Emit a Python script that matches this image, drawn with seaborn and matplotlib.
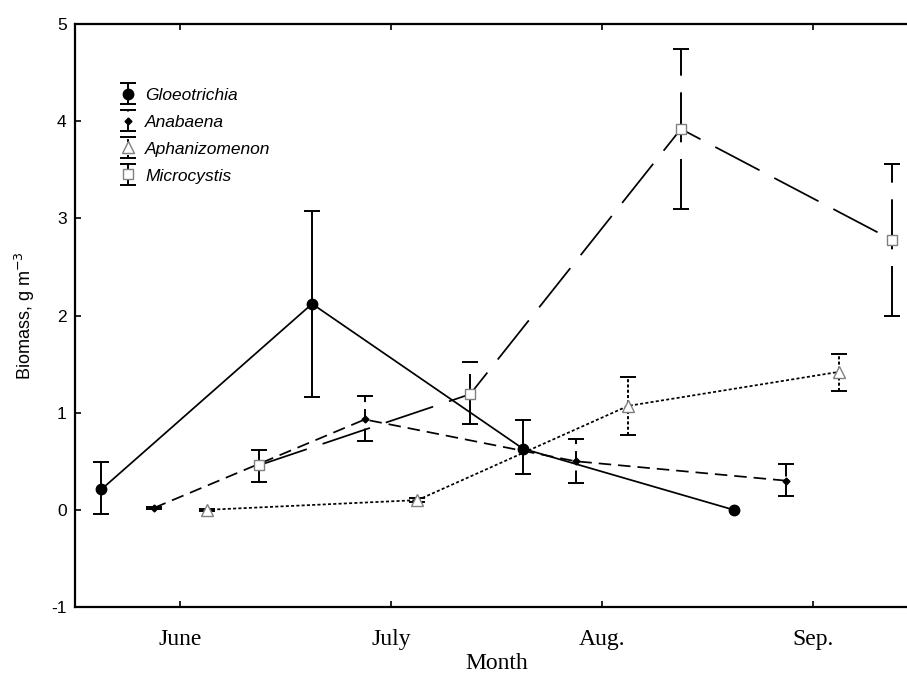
import numpy as np
import pandas as pd
import matplotlib
matplotlib.use("Agg")
import matplotlib.pyplot as plt
import seaborn as sns
from matplotlib.legend_handler import HandlerErrorbar

# ---------------- data ----------------
months = ["June", "July", "Aug.", "Sep."]
species = ["Gloeotrichia", "Anabaena", "Aphanizomenon", "Microcystis"]

gloeo_mean = [0.21, 2.12, 0.63, 0.00]
gloeo_hi = [0.49, 3.08, 0.92, np.nan]
gloeo_lo = [-0.04, 1.16, 0.37, np.nan]

anab_mean = [0.02, 0.93, 0.50, 0.30]
anab_hi = [0.03, 1.17, 0.73, 0.47]
anab_lo = [0.01, 0.71, 0.28, 0.14]

aphan_mean = [0.00, 0.10, 1.07, 1.42]
aphan_hi = [0.01, 0.12, 1.37, 1.60]
aphan_lo = [-0.01, 0.08, 0.77, 1.22]

micro_mean = [0.46, 1.19, 3.92, 2.78]
micro_hi = [0.62, 1.52, 4.74, 3.56]
micro_lo = [0.29, 0.88, 3.10, 1.99]

series = {
    "Gloeotrichia": (gloeo_mean, gloeo_lo, gloeo_hi),
    "Anabaena": (anab_mean, anab_lo, anab_hi),
    "Aphanizomenon": (aphan_mean, aphan_lo, aphan_hi),
    "Microcystis": (micro_mean, micro_lo, micro_hi),
}

rows = []
for sp in species:
    m, lo, hi = series[sp]
    for i, mon in enumerate(months):
        rows.append({"species": sp, "month_idx": i, "month": mon,
                     "mean": m[i], "lo": lo[i], "hi": hi[i]})
df = pd.DataFrame(rows)

# ---------------- styles ----------------
offsets = {"Gloeotrichia": -0.375, "Anabaena": -0.125,
           "Aphanizomenon": 0.125, "Microcystis": 0.375}
styles = {
    "Gloeotrichia": dict(marker="o", ms=7.5, mfc="black", mec="black", ls="-"),
    "Anabaena": dict(marker="D", ms=3.5, mfc="black", mec="black", ls=(0, (9, 5))),
    "Aphanizomenon": dict(marker="^", ms=8, mfc="white", mec="#808080", ls=(0, (2.2, 1.6))),
    "Microcystis": dict(marker="s", ms=7, mfc="white", mec="#808080", ls=(0, (36, 12))),
}

sns.set_style("ticks")
plt.rcParams["lines.scale_dashes"] = False
plt.rcParams["font.family"] = ["Liberation Sans", "DejaVu Sans"]
for k in ["text.color", "axes.labelcolor", "xtick.color", "ytick.color", "axes.edgecolor"]:
    plt.rcParams[k] = "black"

fig = plt.figure(figsize=(9.07, 6.74), dpi=100)
ax = fig.add_axes([75 / 907, 67 / 674, 843 / 907, 583 / 674])

df["xpos"] = df["month_idx"] + df["species"].map(offsets)

legend_handles = []
for sp in species:
    sub = df[df["species"] == sp]
    st = styles[sp]
    sns.lineplot(data=sub, x="xpos", y="mean", ax=ax, color="black",
                 linewidth=1.25, linestyle=st["ls"], marker=st["marker"],
                 markersize=st["ms"], markerfacecolor=st["mfc"],
                 markeredgecolor=st["mec"], markeredgewidth=1.0,
                 estimator=None, sort=False, legend=False, zorder=4)
    ok = sub.dropna(subset=["lo", "hi"])
    eb = ax.errorbar(ok["xpos"], ok["mean"],
                     yerr=[ok["mean"] - ok["lo"], ok["hi"] - ok["mean"]],
                     fmt="none", ecolor="black", elinewidth=1.4,
                     capsize=6, capthick=1.4, zorder=3)
    eb[2][0].set_linestyle(st["ls"])
    # legend proxy
    h = ax.errorbar([np.nan], [np.nan], yerr=[[0.1]], fmt=st["marker"],
                    color="black", ms=st["ms"], mfc=st["mfc"], mec=st["mec"],
                    elinewidth=1.4, capsize=6, capthick=1.4, linestyle="none")
    h[2][0].set_linestyle(st["ls"])
    legend_handles.append(h)

ax.set_xlim(-0.5, 3.5)
ax.set_ylim(-1, 5)
ax.set_xticks(range(len(months)))
ax.set_xticklabels(months, family=["Liberation Serif"], fontsize=17)
ax.set_yticks(range(-1, 6))
ax.set_yticklabels([str(v) for v in range(-1, 6)], fontsize=12.5)
ax.tick_params(direction="in", length=4, width=1.2, top=True, right=False,
               colors="black", pad=6)
ax.tick_params(axis="x", pad=16)
for s in ["left", "bottom", "top"]:
    ax.spines[s].set_linewidth(1.6)
    ax.spines[s].set_color("black")
ax.spines["right"].set_visible(False)

ax.set_xlabel("Month", family=["Liberation Serif"], fontsize=17, labelpad=2)
ax.set_ylabel("Biomass, g m$^{-3}$", fontsize=13, labelpad=10)

leg = ax.legend(legend_handles, species, loc="upper left",
                bbox_to_anchor=(0.044, 0.903), frameon=False,
                handlelength=1.0, handletextpad=0.5, labelspacing=0.68,
                borderaxespad=0, numpoints=1,
                prop={"style": "italic", "size": 12.5, "family": "Liberation Sans"},
                handler_map={type(legend_handles[0]): HandlerErrorbar(yerr_size=0.6)})

fig.savefig("out.png", dpi=100)
